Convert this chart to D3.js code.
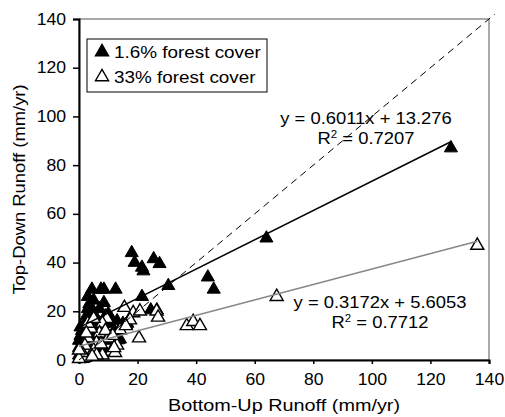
<!DOCTYPE html>
<html>
<head>
<meta charset="utf-8">
<script src="https://cdn.jsdelivr.net/npm/d3@7"></script>
<style>
  body { margin: 0; background: #fff; }
  svg text { font-family: "Liberation Sans", Arial, sans-serif; fill: #000; }
</style>
</head>
<body>
<div id="chart"></div>
<script>
// 1.6% forest cover (filled triangles)
const lowForestX = [127, 64, 44, 46, 30.5, 18, 19, 21.5, 22, 25.5, 27.5, 21.5, 24.5, 26.6,
  4.4, 7.5, 8.5, 12.5, 5, 8.5, 3.5, 3, 2.5, 2, 1, 0.5, 0, 0, 0, 1, 2, 4, 5, 5, 6, 6, 7, 8,
  9, 9, 10, 10, 11, 11, 12, 13, 14, 15, 16, 16.5, 13.3, 3, 7, 1.5, 0.5, 1.5, 3.5, 4, 2, 6.5];
const lowForestY = [87, 50, 34, 29, 30.5, 44, 40, 38, 36.5, 41.5, 39.5, 26, 20.5, 20.5,
  29, 29, 29, 29, 24.5, 23.5, 23, 21, 18, 15, 12, 10, 8, 5, 2, 3, 6, 10, 14, 19, 8, 17, 13, 5,
  18, 10, 15, 19, 17, 8, 12, 16, 8.5, 15, 14.5, 15, 8.2, 26, 21, 0.5, 13.5, 8.5, 16, 6, 11, 10.5];

// 33% forest cover (open triangles)
const highForestX = [136, 67.5, 36.8, 39, 41.3, 20.5, 15.5, 18.5, 20.8, 26.5, 27, 17.4, 14, 13,
  11, 12.3, 9.5, 8, 7, 6, 5, 4, 3, 2, 2, 1, 0, 0, 8, 10, 12, 9, 6, 3, 5, 16, 11.5, 4.5, 7.5, 2.5];
const highForestY = [47, 26, 14, 15.7, 14, 9, 21.5, 19.3, 20, 20, 17.5, 16.4, 12.3, 6,
  3.5, 3, 17, 15, 11, 7, 4, 13, 9, 6, 1, 3, 0.5, 4, 2, 9, 5, 12, 2, 15, 17, 14, 10, 1.5, 6.5, 11];

const axisTicks = [0, 20, 40, 60, 80, 100, 120, 140];
const fitLow = { slope: 0.6011, intercept: 13.276, r2: "0.7207", from: 0, to: 127.3 };
const fitHigh = { slope: 0.3172, intercept: 5.6053, r2: "0.7712", from: 0, to: 136 };

const W = 505, H = 417;
const margin = { top: 19, right: 16, bottom: 57, left: 79 };
const iw = W - margin.left - margin.right;
const ih = H - margin.top - margin.bottom;

const svg = d3.select('#chart').append('svg').attr('width', W).attr('height', H);
const g = svg.append('g').attr('transform', `translate(${margin.left},${margin.top})`);

const x = d3.scaleLinear().domain([0, 140]).range([0, iw]);
const y = d3.scaleLinear().domain([0, 140]).range([ih, 0]);

// stretch text horizontally like the original rendering
function stretch(sel, k) {
  sel.each(function () {
    const t = d3.select(this);
    const tx = +t.attr('x') || 0, ty = +t.attr('y') || 0;
    t.attr('transform', `translate(${tx},${ty}) scale(${k},1)`).attr('x', 0).attr('y', 0);
  });
}

// plot frame (top / right)
g.append('rect').attr('width', iw).attr('height', ih)
  .attr('fill', 'none').attr('stroke', '#555').attr('stroke-width', 1);

// axes
const xAxis = g.append('g').attr('transform', `translate(0,${ih})`)
  .call(d3.axisBottom(x).tickValues(axisTicks).tickSize(4).tickPadding(16).tickFormat(d3.format('d')));
const yAxis = g.append('g')
  .call(d3.axisLeft(y).tickValues(axisTicks).tickSize(6).tickPadding(7).tickFormat(d3.format('d')));
[xAxis, yAxis].forEach(a => {
  a.select('.domain').attr('stroke', '#000').attr('stroke-width', 2);
  a.selectAll('.tick line').attr('stroke', '#000').attr('stroke-width', 1.5);
  a.selectAll('text').attr('font-size', 16).attr('font-family', '"Liberation Sans", Arial, sans-serif');
});
xAxis.selectAll('text').attr('dy', '0.32em');
stretch(xAxis.selectAll('text'), 1.1);
stretch(yAxis.selectAll('text'), 1.1);

// points
const tri = d3.symbol().type(d3.symbolTriangle).size(74);
const lowPts = lowForestX.map((v, i) => ({ x: v, y: lowForestY[i] }));
const highPts = highForestX.map((v, i) => ({ x: v, y: highForestY[i] }));

g.selectAll('.low').data(lowPts).join('path').attr('class', 'low')
  .attr('d', tri).attr('transform', d => `translate(${x(d.x)},${y(d.y)})`)
  .attr('fill', '#000').attr('stroke', '#000').attr('stroke-width', 1);

g.selectAll('.high').data(highPts).join('path').attr('class', 'high')
  .attr('d', tri).attr('transform', d => `translate(${x(d.x)},${y(d.y)})`)
  .attr('fill', '#fff').attr('stroke', '#000').attr('stroke-width', 1.4);

// 1:1 line
g.append('line')
  .attr('x1', x(0)).attr('y1', y(0)).attr('x2', x(142)).attr('y2', y(142))
  .attr('stroke', '#000').attr('stroke-width', 1).attr('stroke-dasharray', '7,5');

// trend lines
[[fitLow, '#000'], [fitHigh, '#888']].forEach(([f, c]) => {
  g.append('line')
    .attr('x1', x(f.from)).attr('y1', y(f.slope * f.from + f.intercept))
    .attr('x2', x(f.to)).attr('y2', y(f.slope * f.to + f.intercept))
    .attr('stroke', c).attr('stroke-width', 1.5);
});

// equations
function equation(f, cx, by) {
  const t1 = svg.append('text').attr('x', cx).attr('y', by).attr('text-anchor', 'middle')
    .attr('font-size', 16).text(`y = ${f.slope}x + ${f.intercept}`);
  const t2 = svg.append('text').attr('x', cx).attr('y', by + 20).attr('text-anchor', 'middle')
    .attr('font-size', 16);
  t2.append('tspan').text('R');
  t2.append('tspan').attr('font-size', 10).attr('dy', -6).text('2');
  t2.append('tspan').attr('dy', 6).text(` = ${f.r2}`);
  stretch(t1, 1.15);
  stretch(t2, 1.15);
}
equation(fitLow, 366, 124);
equation(fitHigh, 380, 308);

// legend
const lg = svg.append('g');
lg.append('rect').attr('x', 87).attr('y', 39).attr('width', 180).attr('height', 53)
  .attr('fill', '#fff').attr('stroke', '#000').attr('stroke-width', 1);
const legendItems = [
  { label: '1.6% forest cover', fill: '#000', y: 52 },
  { label: '33% forest cover', fill: '#fff', y: 77 }
];
legendItems.forEach(d => {
  lg.append('path').attr('d', tri).attr('transform', `translate(102,${d.y})`)
    .attr('fill', d.fill).attr('stroke', '#000').attr('stroke-width', 1.4);
  const t = lg.append('text').attr('x', 114).attr('y', d.y + 5.5).attr('font-size', 16).text(d.label);
  stretch(t, 1.18);
});

// axis titles
const xt = svg.append('text').attr('x', margin.left + iw / 2).attr('y', 411)
  .attr('text-anchor', 'middle').attr('font-size', 16).text('Bottom-Up Runoff (mm/yr)');
stretch(xt, 1.24);
svg.append('text')
  .attr('transform', `translate(25,${margin.top + ih / 2}) rotate(-90) scale(1.15,1)`)
  .attr('text-anchor', 'middle').attr('font-size', 16).text('Top-Down Runoff (mm/yr)');
</script>
</body>
</html>
